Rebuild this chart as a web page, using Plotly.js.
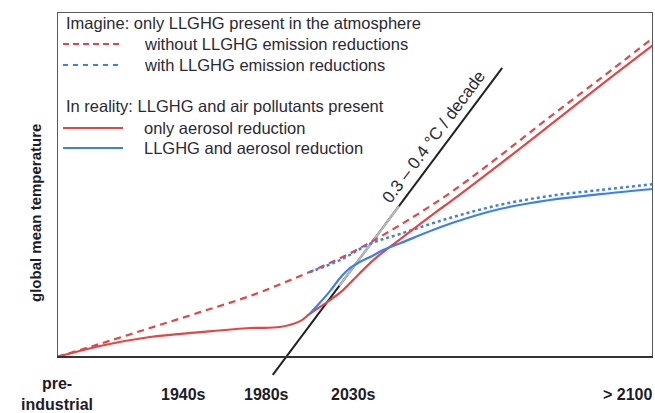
<!DOCTYPE html>
<html><head><meta charset="utf-8">
<script src="https://cdn.plot.ly/plotly-3.0.1.min.js"></script>
<style>html,body{margin:0;padding:0;background:#fff}#chart{width:655px;height:413px}</style>
</head><body><div id="chart"></div>
<script>
// x: position along the (schematic) time axis, 0 = pre-industrial, 100 = beyond 2100
// y: relative global mean temperature, 0 = pre-industrial level
const tickLabels = ["pre-<br>industrial", "1940s", "1980s", "2030s", "> 2100"];
const tickPos = [0, 21.3, 35.1, 49.7, 95.8];

const noRedX = [0, 7.2, 15.6, 24.0, 32.4, 40.8, 49.2, 57.6, 65.9, 74.3, 82.7, 91.1, 100];
const noRedY = [0, 3.8, 8.4, 13.0, 17.7, 23.5, 30.1, 38.3, 47.5, 58.3, 69.6, 80.6, 92.5];

const withRedX = [42.4, 47.5, 52.5, 57.6, 65.9, 74.3, 82.7, 91.1, 100];
const withRedY = [24.6, 28.1, 32.8, 35.7, 40.3, 44.1, 46.7, 48.4, 50.1];

const aerX = [0, 7.2, 15.6, 24.0, 32.4, 37.4, 40.8, 42.4, 45.8, 48.0, 50.8, 53.7, 57.6, 63.8, 65.9, 74.3, 82.7, 91.1, 100];
const aerY = [0, 3.2, 5.8, 7.2, 8.4, 8.7, 10.4, 12.5, 16.5, 19.4, 24.3, 29.0, 34.2, 42.3, 44.9, 55.9, 67.2, 78.6, 90.4];

const bothX = [42.4, 44.1, 45.8, 47.5, 49.2, 50.8, 52.9, 54.7, 57.6, 65.9, 74.3, 82.7, 91.1, 100];
const bothY = [12.5, 15.7, 19.1, 22.9, 25.8, 27.5, 29.3, 31.0, 33.0, 38.6, 42.9, 45.5, 47.2, 48.7];

// warming-rate guide line
const rateX = [36.2, 74.7];
const rateY = [-5.2, 83.8];
const rateFade = [0.29, 0.55];
const rateLabel = "0.3 – 0.4 °C / decade";

const groupTitles = ["Imagine: only LLGHG present in the atmosphere", "In reality: LLGHG and air pollutants present"];
const seriesNames = ["without LLGHG emission reductions", "with LLGHG emission reductions", "only aerosol reduction", "LLGHG and aerosol reduction"];
const yTitle = "global mean temperature";

const RED = '#e84444', BLUE = '#3c7ff0';
const W = 655, H = 413, ML = 57, MR = 2, MT = 12, MB = 33;
const PW = W - ML - MR, PH = H - MT - MB;
const xp = px => (px - ML) / PW;
const yp = py => (H - MB - py) / PH;

const lerp = (a, b, t) => a + (b - a) * t;
const fadeX = rateFade.map(t => lerp(rateX[0], rateX[1], t));
const fadeY = rateFade.map(t => lerp(rateY[0], rateY[1], t));

const traces = [
  {x: rateX, y: rateY, mode: 'lines', line: {color: '#222', width: 2}, hoverinfo: 'skip'},
  {x: fadeX, y: fadeY, mode: 'lines', line: {color: '#bbb', width: 2}, hoverinfo: 'skip'},
  {x: noRedX, y: noRedY, mode: 'lines', name: seriesNames[0], line: {color: RED, width: 2.2, dash: '7px,5px', shape: 'spline'}},
  {x: withRedX, y: withRedY, mode: 'lines', name: seriesNames[1], line: {color: BLUE, width: 2.5, dash: '3px,3px', shape: 'spline'}},
  {x: aerX, y: aerY, mode: 'lines', name: seriesNames[2], line: {color: RED, width: 2.2, shape: 'spline'}},
  {x: bothX, y: bothY, mode: 'lines', name: seriesNames[3], line: {color: BLUE, width: 2.2, shape: 'spline'}}
];

const txtFont = {family: 'Liberation Sans, Arial, sans-serif', size: 16.5, color: '#2a2a35'};
const boldFam = 'Liberation Sans, Arial, sans-serif';
const boldColor = '#1c1c2a';

const annotations = [];
// tick labels
tickLabels.forEach((t, i) => annotations.push({
  x: tickPos[i], xref: 'x', y: yp(394), yref: 'paper', text: '<b>' + t + '</b>',
  showarrow: false, xanchor: 'center', yanchor: 'middle', align: 'center',
  font: {family: boldFam, size: 16, color: boldColor}
}));
// y title
annotations.push({x: xp(35), xref: 'paper', y: yp(213), yref: 'paper', text: '<b>' + yTitle + '</b>',
  textangle: -90, showarrow: false, xanchor: 'center', yanchor: 'middle',
  font: {family: boldFam, size: 15, color: boldColor}});
// rate label
annotations.push({x: 63.3, xref: 'x', y: 63.8, yref: 'y', text: rateLabel, textangle: -53.3,
  showarrow: false, xanchor: 'center', yanchor: 'middle', font: {family: txtFont.family, size: 17, color: txtFont.color}});

// manual legend
const legRows = [
  {kind: 'title', text: groupTitles[0], py: 23},
  {kind: 'item', text: seriesNames[0], py: 44, color: RED, dash: 'dash'},
  {kind: 'item', text: seriesNames[1], py: 65, color: BLUE, dash: 'dot'},
  {kind: 'title', text: groupTitles[1], py: 106},
  {kind: 'item', text: seriesNames[2], py: 128, color: RED, dash: 'solid'},
  {kind: 'item', text: seriesNames[3], py: 148, color: BLUE, dash: 'solid'}
];
const shapes = [];
legRows.forEach(r => {
  annotations.push({x: xp(r.kind === 'title' ? 64 : 142), xref: 'paper', y: yp(r.py), yref: 'paper',
    text: r.text, showarrow: false, xanchor: 'left', yanchor: 'middle', font: txtFont});
  if (r.kind === 'item') {
    shapes.push({type: 'line', xref: 'paper', yref: 'paper', x0: xp(63), x1: xp(123), y0: yp(r.py), y1: yp(r.py),
      line: {color: r.color, width: 2.2, dash: r.dash === 'dash' ? '6px,4px' : (r.dash === 'dot' ? '5px,5px' : 'solid')}});
  }
});
// plot frame
shapes.push({type: 'rect', xref: 'x', yref: 'y', x0: 0, x1: 100, y0: 0, y1: 100, layer: 'above',
  line: {color: '#5a5a5a', width: 2}});
shapes.push({type: 'line', xref: 'x', yref: 'y', x0: 0, x1: 100, y0: 0, y1: 0, layer: 'above',
  line: {color: '#333', width: 2}});

const yMin = -((H - MB) - 357) / 3.45;

const layout = {
  width: W, height: H,
  margin: {l: ML, r: MR, t: MT, b: MB, pad: 0},
  paper_bgcolor: '#fff', plot_bgcolor: '#fff',
  showlegend: false,
  xaxis: {range: [0, 100], showgrid: false, zeroline: false, showline: false, showticklabels: false, ticks: '', fixedrange: true},
  yaxis: {range: [yMin, 100], showgrid: false, zeroline: false, showline: false, showticklabels: false, ticks: '', fixedrange: true},
  annotations: annotations,
  shapes: shapes
};

Plotly.newPlot('chart', traces, layout, {staticPlot: true, displayModeBar: false});
</script>
</body></html>
